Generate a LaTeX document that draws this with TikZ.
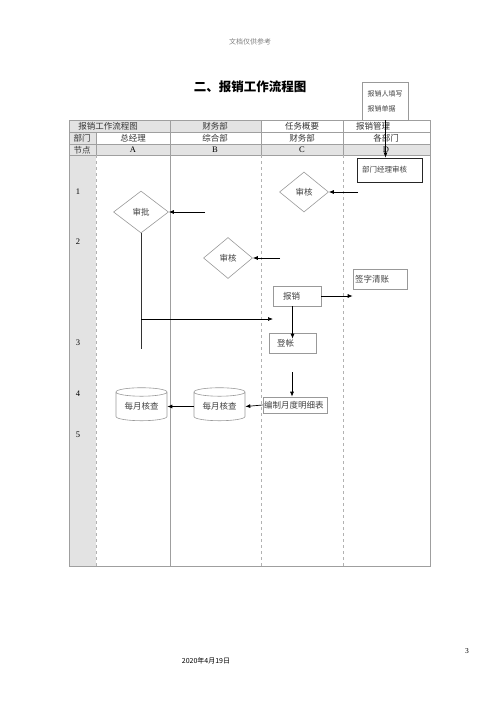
\documentclass[tikz,border=0pt]{standalone}
\usepackage{fontspec}
\setmainfont{Noto Sans CJK SC}
\newfontfamily\latin{Liberation Serif}
\usetikzlibrary{arrows.meta,shapes.geometric}
\tikzset{
 tableline/.style={draw=gray!75,line width=.7pt},
 lane/.style={draw=gray!60,line width=.6pt,dashed},
 shade/.style={fill=gray!22},
 cell/.style={inner sep=0,font=\fontsize{8.5}{9}\selectfont,text=black!80},
 rowno/.style={inner sep=0,font=\latin\fontsize{8.5}{9}\selectfont},
 task/.style={draw=gray!80,line width=.6pt,inner ysep=0,align=left,font=\fontsize{8.5}{9}\selectfont,text=black!75},
 check/.style={diamond,draw=gray!80,line width=.6pt,inner sep=0,font=\fontsize{8.5}{9}\selectfont,text=black!75},
 store/.style={cylinder,shape border rotate=90,aspect=.25,draw=gray!80,line width=.6pt,minimum width=51pt,minimum height=33pt,inner sep=0,font=\fontsize{8.5}{9}\selectfont,text=black!75},
 flow/.style={-{Latex[length=5pt,width=4pt]},line width=.7pt},
 link/.style={line width=.7pt,draw=black!80}
}
\begin{document}
\begin{tikzpicture}[x=1pt,y=-1pt]
\useasboundingbox (0,0) rectangle (500,707);
\node[font=\fontsize{7}{7}\selectfont,text=gray] (pagehead) at (250,42) {文档仅供参考};
\node[font=\fontsize{12.5}{13}\selectfont\bfseries] (title) at (250,87) {二、报销工作流程图};
% table
\fill[shade] (69,120) rectangle (261,132);
\fill[shade] (69,132) rectangle (96,144);
\fill[shade] (69,144) rectangle (430,155);
\fill[shade] (69,155) rectangle (96,566);
\foreach \y in {132,144,155} \draw[tableline] (69,\y) -- (430,\y);
\draw[tableline] (170,120) -- (170,566);
\foreach \x in {261,343} \draw[tableline] (\x,120) -- (\x,155);
\draw[tableline] (96,132) -- (96,155);
\foreach \x in {96,261,343} \draw[lane] (\x,155) -- (\x,566);
\draw[tableline] (69,120) rectangle (430,566);
\node[cell] (hname) at (108,126) {报销工作流程图};
\node[cell] (hdept) at (215,126) {财务部};
\node[cell] (hsum) at (302,126) {任务概要};
\node[cell] (hman) at (373,126) {报销管理};
\node[cell] (ldept) at (82,138) {部门};
\node[cell] (deptA) at (133,138) {总经理};
\node[cell] (deptB) at (215,138) {综合部};
\node[cell] (deptC) at (302,138) {财务部};
\node[cell] (deptD) at (386,138) {各部门};
\node[cell] (lnode) at (82,150) {节点};
\foreach \c/\x in {A/133,B/215,C/302,D/386}
  \node[rowno] (col\c) at (\x,150) {\c};
\foreach \n/\y in {1/192,2/242,3/343,4/394,5/435}
  \node[rowno] (row\n) at (78,\y) {\n};
% steps
\node[task,font=\fontsize{7}{15}\selectfont,text width=36pt,inner xsep=5pt,minimum height=38pt] (form) at (385.5,101) {报销人填写\\报销单据};
\node[task,draw=black!85,line width=.9pt,font=\fontsize{7.5}{8}\selectfont,text width=55pt,inner xsep=5pt,minimum height=24pt] (head) at (389.5,170) {部门经理审核};
\node[check,minimum width=49pt,minimum height=40pt] (chkC) at (304,192) {审核};
\node[check,minimum width=55pt,minimum height=42pt] (apprA) at (141,212) {审批};
\node[check,minimum width=49pt,minimum height=41pt] (chkB) at (228,258) {审核};
\node[task,text width=50pt,inner xsep=2pt,minimum height=20pt] (sign) at (380,279) {签字清账};
\node[task,text width=28pt,inner xsep=10pt,minimum height=20pt] (pay) at (297,296) {报销};
\node[task,text width=31pt,inner xsep=8pt,minimum height=20pt] (post) at (292.5,343) {登帐};
\node[task,text width=62pt,inner xsep=1pt,minimum height=16pt] (sheet) at (295,405) {编制月度明细表};
\node[store] (cylB) at (219.5,406.5) {每月核查};
\node[store] (cylA) at (141.5,406.5) {每月核查};
\node[font=\fontsize{7}{7}\selectfont] (date) at (206,661) {2020年4月19日};
\node[font=\latin\fontsize{7.5}{8}\selectfont] (pageno) at (467,651) {3};
% connectors
\coordinate (d1) at (358,192);
\coordinate (b1) at (205,212);
\coordinate (c1) at (280,258);
\coordinate (a1) at (141,349);
\coordinate (a2) at (141,319);
\coordinate (c2) at (273,319);
\coordinate (c3) at (292,372);
\draw[flow] (form.south) -- (form.south |- head.north);
\draw[flow] (d1) -- (chkC.east);
\draw[flow] (b1) -- (apprA.east);
\draw[flow] (c1) -- (chkB.east);
\draw[link] (apprA.south) -- (a1);
\draw[flow] (a2) -- (c2);
\draw[flow] (pay.east) -- (pay.east -| sign.west);
\draw[flow] (pay.south -| post.north) -- ([yshift=-6pt]post.north);
\draw[flow] (c3) -- (c3 |- sheet.north);
\draw[flow] (sheet.west) -- (cylB.east);
\draw[flow] (cylB.west) -- (cylA.east);
\end{tikzpicture}
\end{document}
